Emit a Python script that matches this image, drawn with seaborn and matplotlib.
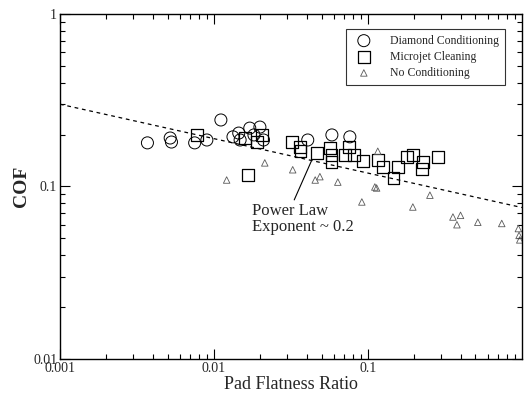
import matplotlib
matplotlib.use("Agg")
import matplotlib.pyplot as plt
import seaborn as sns
import pandas as pd

# Values (log-log axes)
diamond_x = [0.0037, 0.0052, 0.0053, 0.0075, 0.009, 0.0111, 0.0133, 0.0145, 0.0148,
             0.0171, 0.0182, 0.0199, 0.021, 0.0407, 0.0584, 0.0764]
diamond_y = [0.179, 0.191, 0.181, 0.179, 0.186, 0.243, 0.194, 0.204, 0.186,
             0.218, 0.199, 0.221, 0.186, 0.186, 0.199, 0.194]

microjet_x = [0.0078, 0.0159, 0.0166, 0.019, 0.0205, 0.0321, 0.0361, 0.0365, 0.0466,
              0.0566, 0.058, 0.058, 0.0709, 0.0753, 0.0811, 0.0929, 0.116, 0.125,
              0.147, 0.157, 0.179, 0.196, 0.228, 0.224, 0.285]
microjet_y = [0.199, 0.191, 0.117, 0.181, 0.199, 0.181, 0.169, 0.160, 0.156,
              0.167, 0.152, 0.139, 0.152, 0.169, 0.152, 0.141, 0.142, 0.130,
              0.112, 0.130, 0.148, 0.152, 0.139, 0.126, 0.148]

none_x = [0.0121, 0.0214, 0.0325, 0.0455, 0.0488, 0.0638, 0.0914, 0.111, 0.116,
          0.114, 0.196, 0.253, 0.357, 0.379, 0.40, 0.518, 0.741, 0.95, 0.96, 0.97]
none_y = [0.109, 0.137, 0.125, 0.109, 0.114, 0.106, 0.0813, 0.0993, 0.160,
          0.098, 0.076, 0.089, 0.0665, 0.060, 0.068, 0.062, 0.061, 0.057, 0.052, 0.049]

# power law guide line, end points
fit_x = [0.001, 1.0]
fit_y = [0.30, 0.0755]

sns.set_style("ticks")
plt.rcParams['font.family'] = ['Liberation Serif', 'DejaVu Serif']
plt.rcParams['mathtext.fontset'] = 'stix'

fig = plt.figure(figsize=(5.26, 4.01), dpi=100)
ax = fig.add_axes([0.114, 0.105, 0.878, 0.860])

sns.lineplot(x=fit_x, y=fit_y, ax=ax, color='black', linewidth=0.9,
             dashes=False, linestyle=(0, (3, 3)), legend=False)

sns.scatterplot(x=diamond_x, y=diamond_y, ax=ax, marker='o', s=75,
                facecolors='none', edgecolor='black', linewidth=0.7,
                label='Diamond Conditioning')
sns.scatterplot(x=microjet_x, y=microjet_y, ax=ax, marker='s', s=70,
                facecolors='none', edgecolor='black', linewidth=0.9,
                label='Microjet Cleaning')
sns.scatterplot(x=none_x, y=none_y, ax=ax, marker='^', s=22,
                facecolors='none', edgecolor='0.35', linewidth=0.6,
                label='No Conditioning')

ax.set_xscale('log')
ax.set_yscale('log')
ax.set_xlim(0.001, 1.0)
ax.set_ylim(0.01, 1.0)
ax.set_xticks([0.001, 0.01, 0.1])
ax.set_xticklabels(['0.001', '0.01', '0.1'])
ax.set_yticks([0.01, 0.1, 1])
ax.set_yticklabels(['0.01', '0.1', '1'])

ax.tick_params(which='both', direction='in', top=True, right=True, labelsize=10,
               width=0.8, color='black')
ax.tick_params(which='major', length=7, pad=2)
ax.tick_params(which='minor', length=3.5)
for sp in ax.spines.values():
    sp.set_linewidth(1.0)
    sp.set_color('black')

ax.set_xlabel('Pad Flatness Ratio', fontsize=13, labelpad=1)
ax.set_ylabel('COF', fontsize=14, fontweight='bold', labelpad=2)

# annotation
ax.annotate('Power Law\nExponent ~ 0.2', xy=(0.0433, 0.1426), xytext=(0.0177, 0.080),
            fontsize=12, ha='left', va='top', linespacing=1.0,
            arrowprops=dict(arrowstyle='-', color='black', linewidth=0.8,
                            shrinkA=0, shrinkB=0, relpos=(0.4, 1.0)))

leg = ax.legend(loc='upper right', bbox_to_anchor=(0.963, 0.957), borderaxespad=0,
                fontsize=8.5, frameon=True, fancybox=False, handletextpad=1.2,
                labelspacing=0.35, borderpad=0.5)
leg.get_frame().set_edgecolor('black')
leg.get_frame().set_linewidth(0.8)

fig.savefig('out.png', dpi=100)
